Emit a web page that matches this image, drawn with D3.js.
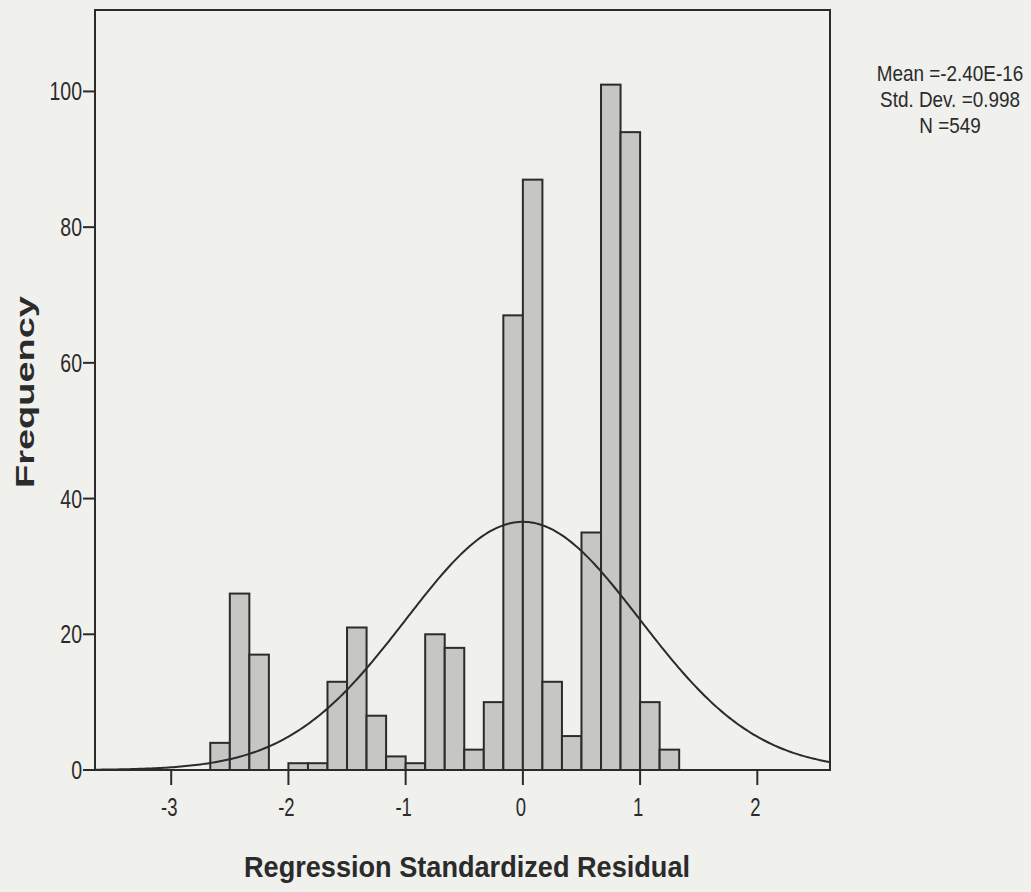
<!DOCTYPE html>
<html>
<head>
<meta charset="utf-8">
<script src="https://cdn.jsdelivr.net/npm/d3@7"></script>
<style>
  body { margin: 0; background: #f0f0ed; }
  svg { display: block; }
  text { font-family: "Liberation Sans", Arial, sans-serif; fill: #2b2b2b; }
</style>
</head>
<body>
<div id="chart"></div>
<script>
// histogram bins (lower edge of each bin, width 1/6)
const binStarts = [-16, -15, -14, -13, -12, -11, -10, -9, -8, -7, -6, -5, -4, -3, -2, -1, 0, 1, 2, 3, 4, 5, 6, 7].map(k => k / 6)
const binWidth = 1 / 6
const counts = [4, 26, 17, 0, 1, 1, 13, 21, 8, 2, 1, 20, 18, 3, 10, 67, 87, 13, 5, 35, 101, 94, 10, 3]

const xTicks = [-3, -2, -1, 0, 1, 2]
const yTicks = [0, 20, 40, 60, 80, 100]

// summary stats printed beside the chart (also used for the normal curve)
const statMean = -2.40e-16
const statSd = 0.998
const statN = 549
const statLabels = ["Mean =-2.40E-16", "Std. Dev. =0.998", "N =549"]

const width = 1031, height = 892
const margin = { top: 10, left: 95, right: 201, bottom: 122 }

const svg = d3.select("#chart").append("svg")
    .attr("width", width)
    .attr("height", height)

// x and y scales
let x = d3.scaleLinear()
    .domain([-3.65, 2.62])
    .range([margin.left, width - margin.right])
let y = d3.scaleLinear()
    .domain([0, 112])
    .range([height - margin.bottom, margin.top])

const ink = "#2b2b2b"

// bars
const data = binStarts.map((b, i) => ({ x0: b, x1: b + binWidth, n: counts[i] }))
svg.append("g").selectAll("rect")
    .data(data.filter(d => d.n > 0)).enter().append("rect")
    .attr("x", d => x(d.x0))
    .attr("y", d => y(d.n))
    .attr("width", d => x(d.x1) - x(d.x0))
    .attr("height", d => y(0) - y(d.n))
    .style("fill", "#c6c6c4")
    .style("stroke", ink)
    .style("stroke-width", 2)

// normal curve from the printed mean / sd / N
const [dx0, dx1] = x.domain()
const curvePts = d3.range(0, 301).map(i => {
    let v = dx0 + (dx1 - dx0) * i / 300
    let z = (v - statMean) / statSd
    return [v, statN * binWidth / (statSd * Math.sqrt(2 * Math.PI)) * Math.exp(-0.5 * z * z)]
})
svg.append("path")
    .datum(curvePts)
    .attr("d", d3.line().x(d => x(d[0])).y(d => y(d[1])))
    .style("fill", "none")
    .style("stroke", ink)
    .style("stroke-width", 2)

// frame
svg.append("rect")
    .attr("x", x.range()[0])
    .attr("y", y.range()[1])
    .attr("width", x.range()[1] - x.range()[0])
    .attr("height", y.range()[0] - y.range()[1])
    .style("fill", "none")
    .style("stroke", ink)
    .style("stroke-width", 2)

// condensed text helper (the scanned lettering is narrow)
function narrowText(g, tx, ty, str, size, anchor, sx, bold) {
    return g.append("g")
        .attr("transform", `translate(${tx},${ty}) scale(${sx},1)`)
        .append("text")
        .attr("text-anchor", anchor)
        .style("font-size", size + "px")
        .style("font-weight", bold ? "bold" : "normal")
        .text(str)
}

// x axis ticks
const xAxis = svg.append("g")
xTicks.forEach(t => {
    xAxis.append("line")
        .attr("x1", x(t)).attr("x2", x(t))
        .attr("y1", y(0)).attr("y2", y(0) + 15)
        .style("stroke", ink).style("stroke-width", 2)
    narrowText(xAxis, x(t) - 2, y(0) + 46, t, 25, "middle", 0.74, false)
})

// y axis ticks
const yAxis = svg.append("g")
yTicks.forEach(t => {
    yAxis.append("line")
        .attr("x1", x.range()[0] - 12).attr("x2", x.range()[0])
        .attr("y1", y(t)).attr("y2", y(t))
        .style("stroke", ink).style("stroke-width", 2)
    narrowText(yAxis, x.range()[0] - 13, y(t) + 9, t, 25, "end", 0.78, false)
})

// axis titles
svg.append("text")
    .attr("x", 244).attr("y", 877)
    .attr("textLength", 446)
    .attr("lengthAdjust", "spacingAndGlyphs")
    .style("font-size", "30px")
    .style("font-weight", "bold")
    .text("Regression Standardized Residual")

svg.append("text")
    .attr("transform", "translate(34,488) rotate(-90)")
    .attr("textLength", 192)
    .attr("lengthAdjust", "spacingAndGlyphs")
    .style("font-size", "25px")
    .style("font-weight", "bold")
    .text("Frequency")

// stats block
statLabels.forEach((s, i) => {
    narrowText(svg, 950, 81 + i * 26, s, 22, "middle", 0.86, false)
})
</script>
</body>
</html>
